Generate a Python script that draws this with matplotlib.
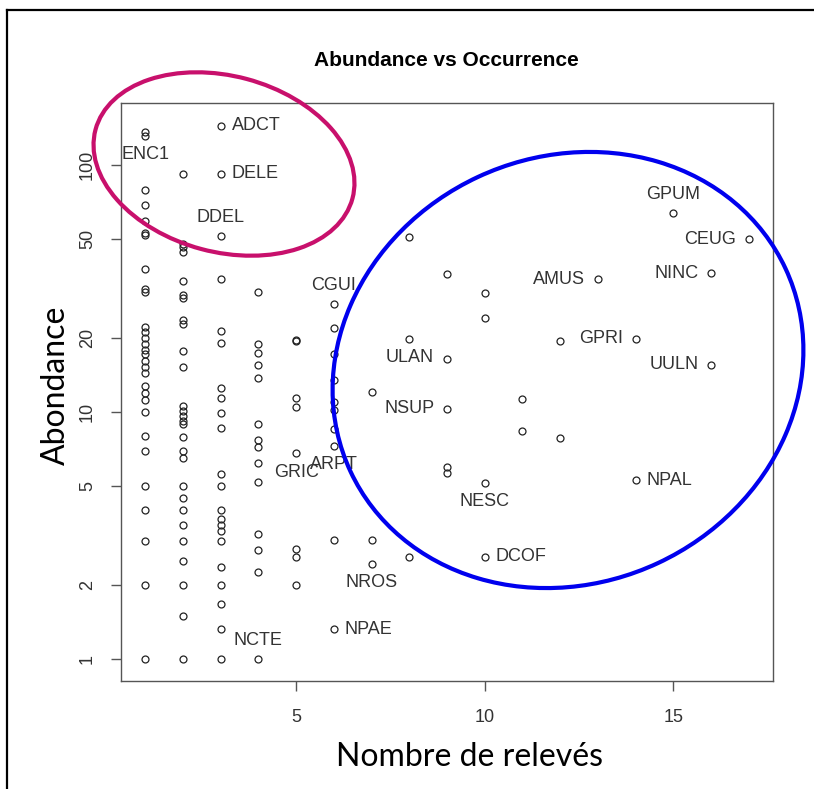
import matplotlib
matplotlib.use("Agg")
import matplotlib.pyplot as plt
from matplotlib.patches import Ellipse
from matplotlib.transforms import IdentityTransform
from matplotlib.lines import Line2D

# nombre de releves (x) et abondance (y), colonne par colonne
releves = ([1] * 30 + [2] * 28 + [3] * 22 + [4] * 14 + [5] * 8 + [6] * 10
           + [7] * 3 + [8] * 3 + [9] * 5 + [10] * 4 + [11] * 2 + [12] * 2
           + [13] + [14] * 2 + [15] + [16] * 2 + [17])
abondance = [
    136, 131, 79, 69, 59, 53, 52, 38, 31.5, 30.5, 22, 21, 20, 18.8, 17.8, 17.2,
    16.1, 15.2, 14.4, 12.7, 11.9, 11.2, 10, 8, 6.95, 5, 4, 3, 2, 1,
    92, 48, 46.5, 44.5, 34, 29.8, 29, 23.6, 22.7, 17.7, 15.2, 10.6, 10.1, 9.6,
    9.2, 8.9, 7.9, 6.95, 6.5, 5, 4.5, 4, 3.5, 3, 2.5, 2, 1.5, 1,
    144, 92, 51.6, 34.5, 21.3, 19, 12.5, 11.4, 9.9, 8.6, 5.6, 5, 4, 3.7, 3.5,
    3.3, 3, 2.36, 2, 1.67, 1.32, 1,
    30.6, 18.9, 17.3, 15.5, 13.7, 8.9, 7.7, 7.2, 6.2, 5.2, 3.2, 2.76, 2.25, 1,
    19.4, 19.6, 11.4, 10.5, 6.8, 2.8, 2.6, 2,
    27.4, 21.9, 17.2, 13.5, 11, 10.2, 8.5, 7.3, 3.03, 1.32,
    12.05, 3.03, 2.43,
    51, 19.8, 2.6,
    36.2, 16.4, 10.3, 6.0, 5.66,
    30.3, 24, 5.16, 2.6,
    11.3, 8.4,
    19.4, 7.85,
    34.5,
    19.8, 5.3,
    64,
    36.5, 15.5,
    50,
]

lab_names = ["ENC1", "ADCT", "DELE", "DDEL", "CGUI", "GRIC", "ARPT", "NCTE",
             "NROS", "NPAE", "ULAN", "NSUP", "NESC", "DCOF", "AMUS", "GPRI",
             "NPAL", "GPUM", "CEUG", "NINC", "UULN"]
lab_x = [1, 3, 3, 3, 6, 5, 6, 4, 7, 6, 8, 9, 10, 10, 13, 14, 14, 15, 17, 16, 16]
lab_y = [131, 144, 92, 51.6, 27.4, 6.8, 7.3, 1, 2.43, 1.32, 19.8, 10.3, 5.16,
         2.6, 34.5, 19.8, 5.3, 64, 50, 36.5, 15.5]
lab_pos = ["below", "right", "right", "above", "above", "below", "below",
           "above", "below", "right", "below", "left", "below", "right",
           "left", "left", "right", "above", "left", "left", "left"]

W, H = 814, 789
fig = plt.figure(figsize=(W / 100, H / 100), dpi=100)
ax = fig.add_axes([121 / W, (H - 681) / H, 652 / W, 578 / H])

ax.plot(releves, abondance, "o", mfc="none", mec="#222222", ms=5, mew=0.9,
        clip_on=False)
ax.set_yscale("log")
ax.set_xlim(0.36, 17.64)
ax.set_ylim(0.815, 178)
ax.set_xticks([5, 10, 15])
ax.set_xticklabels(["5", "10", "15"])
ax.set_yticks([1, 2, 5, 10, 20, 50, 100])
ax.set_yticklabels(["1", "2", "5", "10", "20", "50", "100"], rotation=90,
                   va="center")
ax.minorticks_off()
ax.tick_params(axis="both", direction="out", length=7, width=1,
               color="#555555", labelcolor="#333333", labelsize=13)
ax.tick_params(axis="x", pad=13)
ax.tick_params(axis="y", pad=11)
for t in ax.get_xticklabels() + ax.get_yticklabels():
    t.set_family("Liberation Sans")
for s in ax.spines.values():
    s.set_color("#555555")
    s.set_linewidth(1)

offsets = {"right": (8, 0, "left", "center"), "left": (-9, 0, "right", "center"),
           "above": (0, 13.5, "center", "center"), "below": (0, -13.5, "center", "center")}
for name, x, y, p in zip(lab_names, lab_x, lab_y, lab_pos):
    dx, dy, ha, va = offsets[p]
    ax.annotate(name, (x, y), xytext=(dx, dy), textcoords="offset points",
                ha=ha, va=va, fontsize=13, color="#333333",
                family="Liberation Sans", annotation_clip=False)

fig.text(446 / W, 1 - 60 / H, "Abundance vs Occurrence", ha="center", va="center",
         fontsize=15, fontweight="bold", family="Liberation Sans")
fig.text(470 / W, 1 - 757 / H, "Nombre de relevés", ha="center", va="center",
         fontsize=23, family="Lato")
fig.text(56 / W, 1 - 385 / H, "Abondance", ha="center", va="center",
         fontsize=23, family="Lato", rotation=90)

# cadre exterieur
fig.add_artist(Line2D([7 / W, 7 / W], [0, 1 - 10 / H], color="black", lw=1.6))
fig.add_artist(Line2D([7 / W, 1], [1 - 10 / H, 1 - 10 / H], color="black", lw=1.6))

# ellipses (pixels)
fig.add_artist(Ellipse((224, H - 164), 266, 176, angle=-15, fill=False,
                       ec="#C8106C", lw=3, transform=IdentityTransform()))
fig.add_artist(Ellipse((568, H - 370), 480, 426, angle=25, fill=False,
                       ec="#0000EE", lw=3, transform=IdentityTransform()))

fig.savefig("out.png", dpi=100)
